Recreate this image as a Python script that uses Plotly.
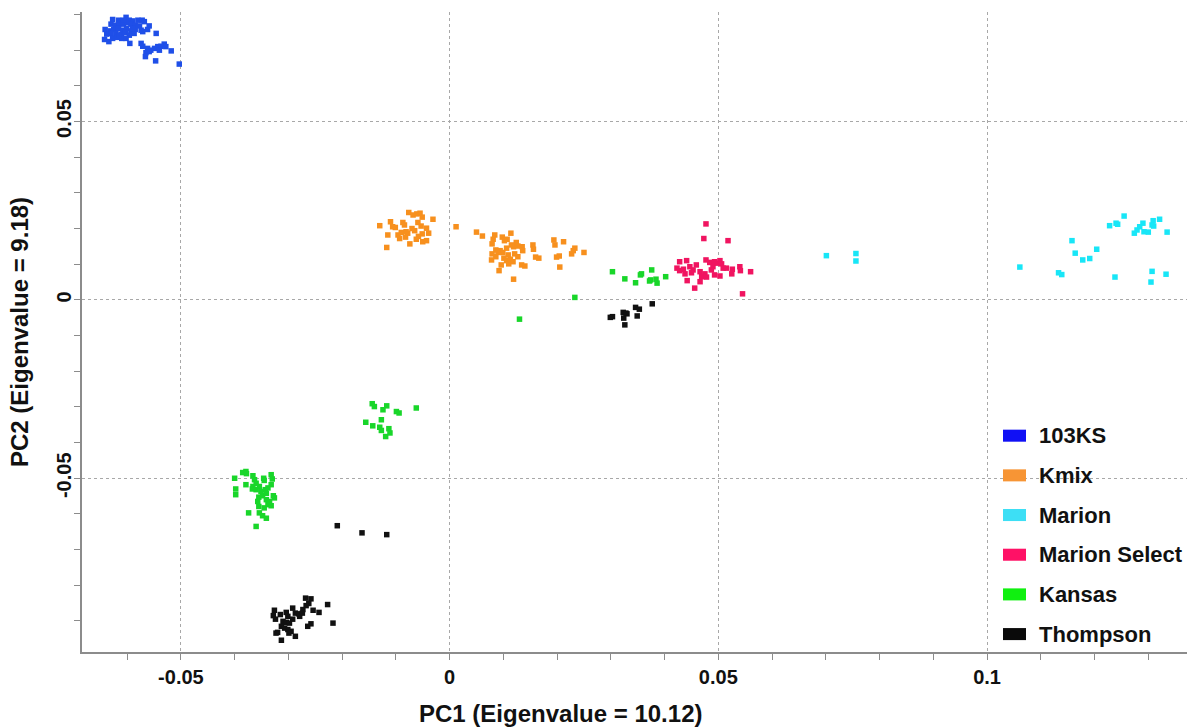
import plotly.graph_objects as go

# PCA scores (PC1, PC2) for each population
groups = ["103KS", "Kmix", "Marion", "Marion Select", "Kansas", "Thompson"]
point_colors = ["#1f4fe8", "#f7901e", "#18e6f7", "#f01460", "#19d62a", "#111111"]
legend_colors = ["#1010f5", "#f79535", "#3ddff5", "#ff1166", "#10f010", "#0a0a0a"]

pc1_103ks = [-0.0627, -0.0616, -0.0602, -0.0596, -0.0590, -0.0580, -0.0572, -0.0568, -0.0559,
             -0.0630, -0.0622, -0.0615, -0.0607, -0.0599, -0.0593, -0.0585, -0.0577, -0.0574,
             -0.0641, -0.0632, -0.0625, -0.0616, -0.0608, -0.0601, -0.0593, -0.0585, -0.0571,
             -0.0562, -0.0638, -0.0630, -0.0621, -0.0611, -0.0603, -0.0596, -0.0587, -0.0642,
             -0.0634, -0.0627, -0.0618, -0.0610, -0.0602, -0.0595, -0.0546, -0.0574, -0.0571,
             -0.0562, -0.0556, -0.0549, -0.0543, -0.0537, -0.0531, -0.0528, -0.0518, -0.0565,
             -0.0559, -0.0566, -0.0547, -0.0540, -0.0503, -0.0615, -0.0590, -0.0607]
pc2_103ks = [0.0786, 0.0784, 0.0792, 0.0784, 0.0782, 0.0784, 0.0784, 0.0780, 0.0768,
             0.0773, 0.0770, 0.0775, 0.0773, 0.0777, 0.0773, 0.0770, 0.0768, 0.0756,
             0.0758, 0.0754, 0.0758, 0.0761, 0.0756, 0.0761, 0.0754, 0.0758, 0.0752,
             0.0758, 0.0745, 0.0747, 0.0747, 0.0745, 0.0749, 0.0742, 0.0747, 0.0730,
             0.0724, 0.0733, 0.0736, 0.0733, 0.0733, 0.0719, 0.0747, 0.0719, 0.0711,
             0.0705, 0.0700, 0.0705, 0.0710, 0.0711, 0.0717, 0.0710, 0.0698, 0.0693,
             0.0696, 0.0682, 0.0670, 0.0700, 0.0661, 0.0742, 0.0761, 0.0784]

pc1_kmix = [-0.0076, -0.0068, -0.0061, -0.0055, -0.0051, -0.0031, -0.0130, -0.0110, -0.0101,
            -0.0087, -0.0084, -0.0065, -0.0059, -0.0053, -0.0043, -0.0039, -0.0051, -0.0078,
            -0.0090, -0.0096, -0.0082, -0.0074, -0.0062, -0.0050, -0.0043, -0.0115, -0.0117,
            -0.0081, -0.0106, -0.0070, -0.0093, -0.0058,
            0.0012,
            0.0050, 0.0061, 0.0084, 0.0081, 0.0079, 0.0098, 0.0102, 0.0107, 0.0114, 0.0124,
            0.0127, 0.0135, 0.0136, 0.0119, 0.0115, 0.0106, 0.0094, 0.0086, 0.0079, 0.0090,
            0.0099, 0.0109, 0.0121, 0.0101, 0.0106, 0.0113, 0.0118, 0.0078, 0.0096, 0.0110,
            0.0092, 0.0134, 0.0140, 0.0119, 0.0155, 0.0156, 0.0160, 0.0166, 0.0194, 0.0196,
            0.0212, 0.0199, 0.0204, 0.0230, 0.0233, 0.0227, 0.0250, 0.0205, 0.0086, 0.0127]
pc2_kmix = [0.0245, 0.0238, 0.0241, 0.0243, 0.0232, 0.0226, 0.0208, 0.0219, 0.0203,
            0.0217, 0.0210, 0.0194, 0.0217, 0.0207, 0.0201, 0.0187, 0.0185, 0.0187,
            0.0189, 0.0182, 0.0176, 0.0157, 0.0170, 0.0163, 0.0166, 0.0182, 0.0147,
            0.0191, 0.0205, 0.0200, 0.0172, 0.0178,
            0.0205,
            0.0190, 0.0179, 0.0182, 0.0170, 0.0157, 0.0176, 0.0166, 0.0170, 0.0187, 0.0161,
            0.0151, 0.0149, 0.0138, 0.0149, 0.0154, 0.0145, 0.0138, 0.0140, 0.0129, 0.0133,
            0.0133, 0.0126, 0.0129, 0.0117, 0.0110, 0.0114, 0.0107, 0.0112, 0.0098, 0.0101,
            0.0082, 0.0098, 0.0095, 0.0058, 0.0154, 0.0142, 0.0120, 0.0117, 0.0168, 0.0154,
            0.0163, 0.0120, 0.0123, 0.0138, 0.0145, 0.0129, 0.0133, 0.0092, 0.0121, 0.0121]

pc1_marion = [0.0701, 0.0756, 0.0756, 0.1061, 0.1133, 0.1139, 0.1158, 0.1164, 0.1178, 0.1191,
              0.1204, 0.1228, 0.1240, 0.1243, 0.1255, 0.1238, 0.1274, 0.1279, 0.1284, 0.1290,
              0.1292, 0.1300, 0.1309, 0.1321, 0.1307, 0.1310, 0.1335, 0.1307, 0.1333, 0.1305]
pc2_marion = [0.0124, 0.0130, 0.0109, 0.0092, 0.0076, 0.0071, 0.0166, 0.0131, 0.0112, 0.0116,
              0.0142, 0.0208, 0.0215, 0.0212, 0.0235, 0.0064, 0.0187, 0.0196, 0.0205, 0.0215,
              0.0191, 0.0190, 0.0222, 0.0226, 0.0210, 0.0207, 0.0190, 0.0080, 0.0072, 0.0050]

pc1_select = [0.0477, 0.0473, 0.0518, 0.0428, 0.0441, 0.0459, 0.0477, 0.0484, 0.0493, 0.0497,
              0.0503, 0.0506, 0.0423, 0.0428, 0.0435, 0.0447, 0.0453, 0.0466, 0.0475, 0.0469,
              0.0478, 0.0493, 0.0503, 0.0515, 0.0526, 0.0540, 0.0541, 0.0560, 0.0525, 0.0442,
              0.0456, 0.0466, 0.0545, 0.0450, 0.0490, 0.0509, 0.0438, 0.0487]
pc2_select = [0.0213, 0.0172, 0.0166, 0.0107, 0.0110, 0.0098, 0.0112, 0.0105, 0.0107, 0.0103,
              0.0110, 0.0101, 0.0089, 0.0082, 0.0086, 0.0093, 0.0084, 0.0079, 0.0073, 0.0065,
              0.0064, 0.0070, 0.0067, 0.0089, 0.0086, 0.0093, 0.0082, 0.0079, 0.0073, 0.0054,
              0.0033, 0.0051, 0.0017, 0.0076, 0.0093, 0.0089, 0.0073, 0.0084]

pc1_kansas = [0.0303, 0.0326, 0.0346, 0.0355, 0.0357, 0.0376, 0.0374, 0.0384, 0.0386, 0.0402,
              0.0372, 0.0233, 0.0130,
              -0.0144, -0.0140, -0.0117, -0.0124, -0.0099, -0.0094, -0.0062, -0.0156, -0.0143,
              -0.0127, -0.0130, -0.0127, -0.0113, -0.0111, -0.0119,
              -0.0400, -0.0398, -0.0398, -0.0385, -0.0379, -0.0378, -0.0379, -0.0366, -0.0363,
              -0.0360, -0.0367, -0.0360, -0.0354, -0.0346, -0.0345, -0.0332, -0.0330, -0.0332,
              -0.0343, -0.0338, -0.0355, -0.0348, -0.0341, -0.0328, -0.0326, -0.0338, -0.0332,
              -0.0355, -0.0345, -0.0374, -0.0354, -0.0348, -0.0341, -0.0360, -0.0366, -0.0351,
              -0.0341, -0.0357, -0.0335]
pc2_kansas = [0.0079, 0.0059, 0.0048, 0.0070, 0.0073, 0.0084, 0.0056, 0.0058, 0.0047, 0.0065,
              0.0053, 0.0007, -0.0054,
              -0.0291, -0.0299, -0.0297, -0.0308, -0.0313, -0.0317, -0.0303, -0.0343, -0.0353,
              -0.0336, -0.0357, -0.0366, -0.0361, -0.0373, -0.0383,
              -0.0500, -0.0530, -0.0546, -0.0484, -0.0481, -0.0487, -0.0518, -0.0493, -0.0504,
              -0.0514, -0.0530, -0.0532, -0.0523, -0.0500, -0.0506, -0.0490, -0.0502, -0.0518,
              -0.0532, -0.0527, -0.0553, -0.0549, -0.0560, -0.0549, -0.0555, -0.0574, -0.0577,
              -0.0579, -0.0583, -0.0597, -0.0597, -0.0605, -0.0612, -0.0635, -0.0523, -0.0537,
              -0.0542, -0.0565, -0.0565]

pc1_thompson = [0.0299, 0.0303, 0.0323, 0.0330, 0.0324, 0.0346, 0.0353, 0.0349, 0.0377, 0.0326,
                0.0328,
                -0.0209, -0.0163, -0.0117,
                -0.0326, -0.0328, -0.0324, -0.0315, -0.0304, -0.0301, -0.0292, -0.0287, -0.0281,
                -0.0273, -0.0268, -0.0258, -0.0262, -0.0267, -0.0254, -0.0243, -0.0227, -0.0217,
                -0.0264, -0.0258, -0.0310, -0.0304, -0.0298, -0.0292, -0.0313, -0.0307, -0.0320,
                -0.0301, -0.0295, -0.0287, -0.0313, -0.0299, -0.0279, -0.0274, -0.0323]
pc2_thompson = [-0.0049, -0.0047, -0.0035, -0.0039, -0.0051, -0.0021, -0.0026, -0.0045, -0.0011,
                -0.0070, -0.0037,
                -0.0633, -0.0653, -0.0658,
                -0.0870, -0.0885, -0.0895, -0.0882, -0.0876, -0.0887, -0.0864, -0.0878, -0.0880,
                -0.0868, -0.0836, -0.0838, -0.0851, -0.0857, -0.0870, -0.0876, -0.0854, -0.0906,
                -0.0915, -0.0908, -0.0901, -0.0904, -0.0906, -0.0895, -0.0915, -0.0920, -0.0932,
                -0.0924, -0.0929, -0.0943, -0.0954, -0.0934, -0.0887, -0.0878, -0.0934]

pc1_values = [pc1_103ks, pc1_kmix, pc1_marion, pc1_select, pc1_kansas, pc1_thompson]
pc2_values = [pc2_103ks, pc2_kmix, pc2_marion, pc2_select, pc2_kansas, pc2_thompson]

x_ticks = [-0.05, 0, 0.05, 0.1]
x_tick_text = ["-0.05", "0", "0.05", "0.1"]
y_ticks = [-0.05, 0, 0.05]
y_tick_text = ["-0.05", "0", "0.05"]

FONT = "Liberation Sans, Arial, sans-serif"

fig = go.Figure()
for name, xs, ys, col in zip(groups, pc1_values, pc2_values, point_colors):
    fig.add_trace(go.Scatter(
        x=xs, y=ys, mode="markers", name=name, showlegend=False,
        marker=dict(symbol="square", size=5.5, color=col, line=dict(width=0)),
    ))

# Legend drawn as colour bars with bold labels
row0, step = 0.3380, 0.0620
for i, (name, col) in enumerate(zip(groups, legend_colors)):
    yc = row0 - i * step
    fig.add_shape(type="rect", xref="paper", yref="paper",
                  x0=0.8335, x1=0.8543, y0=yc - 0.0094, y1=yc + 0.0094,
                  fillcolor=col, line=dict(width=0))
    fig.add_annotation(xref="paper", yref="paper", x=0.8640, y=yc, text=name,
                       showarrow=False, xanchor="left", yanchor="middle",
                       font=dict(family=FONT, size=22, color="#111", weight="bold"))

# PC1 axis caption
fig.add_annotation(xref="paper", yref="paper", x=0.4330, y=-0.0955,
                   text="PC1 (Eigenvalue = 10.12)", showarrow=False,
                   xanchor="center", yanchor="middle",
                   font=dict(family=FONT, size=24, color="#111", weight="bold"))

axis_common = dict(
    showline=True, linecolor="#8c8c8c", linewidth=1.5, mirror=False,
    ticks="outside", ticklen=6, tickcolor="#8c8c8c", tickwidth=1,
    showgrid=True, gridcolor="#a8a8a8", griddash="dot", gridwidth=1,
    zeroline=False,
    tickfont=dict(family=FONT, size=20, color="#111", weight="bold"),
    minor=dict(dtick=0.01, tick0=0, ticks="outside", ticklen=6, tickcolor="#8c8c8c",
               showgrid=False),
)

fig.update_xaxes(
    range=[-0.0684, 0.1372], tickmode="array", tickvals=x_ticks, ticktext=x_tick_text,
    **axis_common,
)
fig.update_yaxes(
    range=[-0.0987, 0.0807], tickmode="array", tickvals=y_ticks, ticktext=y_tick_text,
    tickangle=-90, ticklabelstandoff=-5,
    title=dict(text="PC2 (Eigenvalue = 9.18)", standoff=18,
               font=dict(family=FONT, size=24, color="#111", weight="bold")),
    **axis_common,
)

fig.update_layout(
    width=1190, height=728,
    margin=dict(l=82, r=3, t=12, b=76, autoexpand=False),
    plot_bgcolor="white", paper_bgcolor="white",
    showlegend=False,
)

fig.write_html("out.html")
